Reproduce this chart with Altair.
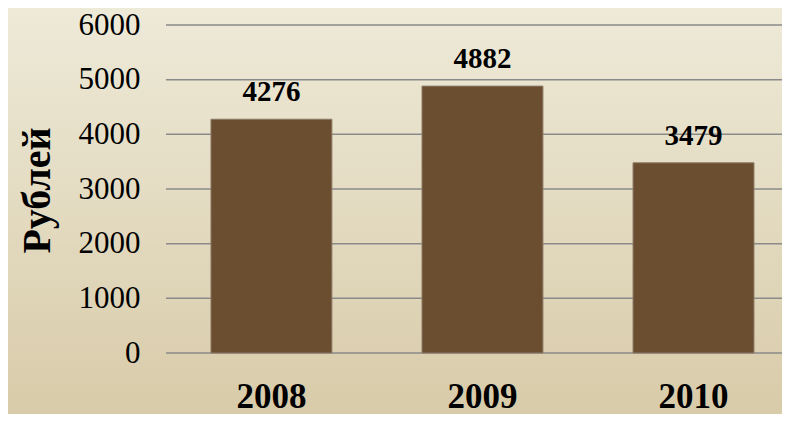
import altair as alt
import pandas as pd

years = ["2008", "2009", "2010"]
values = [4276, 4882, 3479]
y_ticks = [0, 1000, 2000, 3000, 4000, 5000, 6000]

df = pd.DataFrame({"year": years, "value": values})
grid_df = pd.DataFrame({"value": y_ticks})

W, H = 616, 328
PL, PT, PB = 158, 17, 61

bg = alt.Chart(pd.DataFrame({"a": [0]})).mark_rect(
    clip=False,
    color=alt.Gradient(
        gradient="linear",
        stops=[alt.GradientStop(color="#EEEAD8", offset=0),
               alt.GradientStop(color="#D8CBA9", offset=1)],
        x1=0, x2=0, y1=0, y2=1,
    ),
).encode(
    x=alt.value(-PL), x2=alt.value(W + 2),
    y=alt.value(-PT), y2=alt.value(H + PB),
)

yscale = alt.Scale(domain=[0, 6000], nice=False)
yaxis = alt.Axis(values=y_ticks, ticks=False, domain=False, grid=False, zindex=1,
                 labelFont="Liberation Serif", labelFontSize=31, labelColor="#000000",
                 labelPadding=26, format="d",
                 titleFont="Liberation Serif", titleFontSize=40, titleFontWeight="bold",
                 titleColor="#000000", titleAngle=270, titleAlign="center",
                 titleBaseline="middle", titleX=-129, titleY=165)
ys = alt.Y("value:Q", title="Рублей", scale=yscale, axis=yaxis)

grid = alt.Chart(grid_df).mark_rule(color="#8a8a8a", strokeWidth=1.5).encode(
    y=ys, x=alt.value(0), x2=alt.value(W),
)

xs = alt.X("year:N", sort=years, title=None,
           scale=alt.Scale(paddingInner=0.427, paddingOuter=0.173, align=0.616),
           axis=alt.Axis(labelAngle=0, ticks=False, domain=False, zindex=1,
                         labelFont="Liberation Serif", labelFontSize=35,
                         labelFontWeight="bold", labelColor="#000000", labelBaseline="top",
                         labelPadding=26))

bars = alt.Chart(df).mark_bar(color="#6B4D2F", stroke="#8c7a66", strokeWidth=1).encode(x=xs, y=ys)
labels = alt.Chart(df).mark_text(
    font="Liberation Serif", fontSize=29, fontWeight="bold", color="#000000",
    baseline="alphabetic", dy=-18,
).encode(x=alt.X("year:N", sort=years), y=ys, text="value:Q")

chart = alt.layer(bg, grid, bars, labels).properties(
    width=W, height=H,
    autosize=alt.AutoSizeParams(type="none"),
    padding={"left": PL, "top": PT, "right": 0, "bottom": PB},
    background="#E3DAC0",
).configure_view(stroke=None)

chart.save("out.html", embed_options={"renderer": "svg", "actions": False})
